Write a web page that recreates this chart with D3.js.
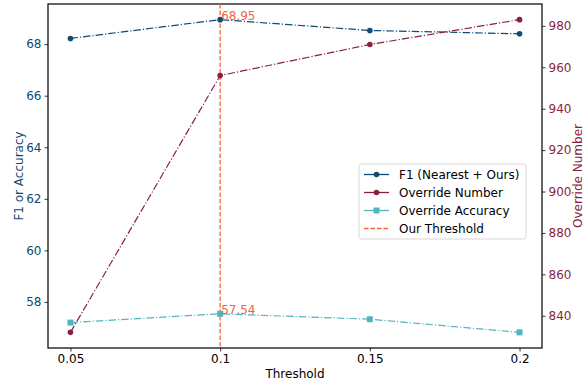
<!DOCTYPE html>
<html>
<head>
<meta charset="utf-8">
<script src="https://cdn.jsdelivr.net/npm/d3@7"></script>
<style>
  body { margin: 0; background: #fff; }
  text { font-family: "DejaVu Sans", sans-serif; }
</style>
</head>
<body>
<div id="chart"></div>
<script>
const thresholds = [0.05, 0.1, 0.15, 0.2]
const f1 = [68.22, 68.95, 68.53, 68.40]
const overrideNumber = [832, 956, 971, 983]
const overrideAcc = [57.20, 57.54, 57.33, 56.82]
const ourThreshold = 0.1
const leftTicks = [58, 60, 62, 64, 66, 68]
const rightTicks = [840, 860, 880, 900, 920, 940, 960, 980]

const W = 587, H = 383
const m = {left: 48, right: 45, top: 4, bottom: 35}

const cF1 = '#0f4a72', cNum = '#8b1f42', cAcc = '#52b5bd', cThr = '#f2663f'

let svg = d3.select('#chart').append('svg')
  .attr('width', W).attr('height', H)

// matplotlib-ish 5% margins
function pad(ext) {
  let r = ext[1] - ext[0]
  return [ext[0] - r * 0.05, ext[1] + r * 0.05]
}

let x = d3.scaleLinear()
  .domain(pad(d3.extent(thresholds)))
  .range([m.left, W - m.right])

let yL = d3.scaleLinear()
  .domain(pad(d3.extent(f1.concat(overrideAcc))))
  .range([H - m.bottom, m.top])

let yR = d3.scaleLinear()
  .domain(pad(d3.extent(overrideNumber)))
  .range([H - m.bottom, m.top])

// axes
let xAxis = svg.append('g')
  .attr('transform', `translate(0,${H - m.bottom})`)
  .call(d3.axisBottom(x).tickValues(thresholds).tickFormat(d => d).tickSize(3.5).tickPadding(3))
let lAxis = svg.append('g')
  .attr('transform', `translate(${m.left},0)`)
  .call(d3.axisLeft(yL).tickValues(leftTicks).tickSize(3.5).tickPadding(3))
let rAxis = svg.append('g')
  .attr('transform', `translate(${W - m.right},0)`)
  .call(d3.axisRight(yR).tickValues(rightTicks).tickSize(3.5).tickPadding(3))

;[xAxis, lAxis, rAxis].forEach(g => {
  g.select('.domain').remove()
  g.selectAll('text').style('font-size', '12px')
  g.selectAll('line').attr('stroke', '#222').attr('stroke-width', 0.9)
})
xAxis.selectAll('text').attr('fill', '#000')
lAxis.selectAll('text').attr('fill', cF1)
rAxis.selectAll('text').attr('fill', cNum)

// frame
svg.append('rect')
  .attr('x', m.left).attr('y', m.top)
  .attr('width', W - m.left - m.right).attr('height', H - m.top - m.bottom)
  .attr('fill', 'none').attr('stroke', '#111').attr('stroke-width', 1.3)

// axis labels
svg.append('text')
  .attr('x', (m.left + W - m.right) / 2).attr('y', H - 5)
  .attr('text-anchor', 'middle').style('font-size', '12px').attr('fill', '#000')
  .text('Threshold')
svg.append('text')
  .attr('transform', `translate(23,${(m.top + H - m.bottom) / 2}) rotate(-90)`)
  .attr('text-anchor', 'middle').style('font-size', '12px').attr('fill', cF1)
  .text('F1 or Accuracy')
svg.append('text')
  .attr('transform', `translate(582,${(m.top + H - m.bottom) / 2}) rotate(-90)`)
  .attr('text-anchor', 'middle').style('font-size', '12px').attr('fill', cNum)
  .text('Override Number')

const dashDot = '7.5,2,1.2,2'

function drawSeries(vals, yScale, color, shape) {
  let pts = thresholds.map((t, i) => [x(t), yScale(vals[i])])
  svg.append('path')
    .attr('d', d3.line()(pts))
    .attr('fill', 'none').attr('stroke', color)
    .attr('stroke-width', 1.2).attr('stroke-dasharray', dashDot)
  if (shape == 'circle') {
    svg.append('g').selectAll('circle').data(pts).enter().append('circle')
      .attr('cx', d => d[0]).attr('cy', d => d[1]).attr('r', 2.8).attr('fill', color)
  } else {
    svg.append('g').selectAll('rect').data(pts).enter().append('rect')
      .attr('x', d => d[0] - 3).attr('y', d => d[1] - 3)
      .attr('width', 6).attr('height', 6).attr('fill', color)
  }
}

// threshold line
svg.append('line')
  .attr('x1', x(ourThreshold)).attr('x2', x(ourThreshold))
  .attr('y1', m.top).attr('y2', H - m.bottom)
  .attr('stroke', cThr).attr('stroke-width', 1.3).attr('stroke-dasharray', '4.5,2')

drawSeries(f1, yL, cF1, 'circle')
drawSeries(overrideNumber, yR, cNum, 'circle')
drawSeries(overrideAcc, yL, cAcc, 'square')

// annotations
let ti = thresholds.indexOf(ourThreshold)
;[f1[ti], overrideAcc[ti]].forEach(v => {
  svg.append('text')
    .attr('x', x(ourThreshold) + 1).attr('y', yL(v))
    .style('font-size', '12px').attr('fill', cThr)
    .text(v.toFixed(2))
})

// legend
let legItems = [
  {label: 'F1 (Nearest + Ours)', color: cF1, shape: 'circle', dash: null},
  {label: 'Override Number', color: cNum, shape: 'circle', dash: null},
  {label: 'Override Accuracy', color: cAcc, shape: 'square', dash: null},
  {label: 'Our Threshold', color: cThr, shape: null, dash: '4.5,2'}
]
let lg = svg.append('g').attr('transform', 'translate(359,164)')
lg.append('rect')
  .attr('width', 167).attr('height', 75).attr('rx', 2.5)
  .attr('fill', 'rgba(255,255,255,0.8)').attr('stroke', '#d6d6d6').attr('stroke-width', 1)
legItems.forEach((d, i) => {
  let gy = 10.5 + i * 18
  let row = lg.append('g').attr('transform', `translate(0,${gy})`)
  row.append('line').attr('x1', 5).attr('x2', 30).attr('y1', 0).attr('y2', 0)
    .attr('stroke', d.color).attr('stroke-width', 1.3)
    .attr('stroke-dasharray', d.dash)
  if (d.shape == 'circle') {
    row.append('circle').attr('cx', 17.5).attr('cy', 0).attr('r', 2.8).attr('fill', d.color)
  } else if (d.shape == 'square') {
    row.append('rect').attr('x', 14.5).attr('y', -3).attr('width', 6).attr('height', 6).attr('fill', d.color)
  }
  row.append('text').attr('x', 40).attr('y', 4.3)
    .style('font-size', '12px').attr('fill', '#000').text(d.label)
})
</script>
</body>
</html>
